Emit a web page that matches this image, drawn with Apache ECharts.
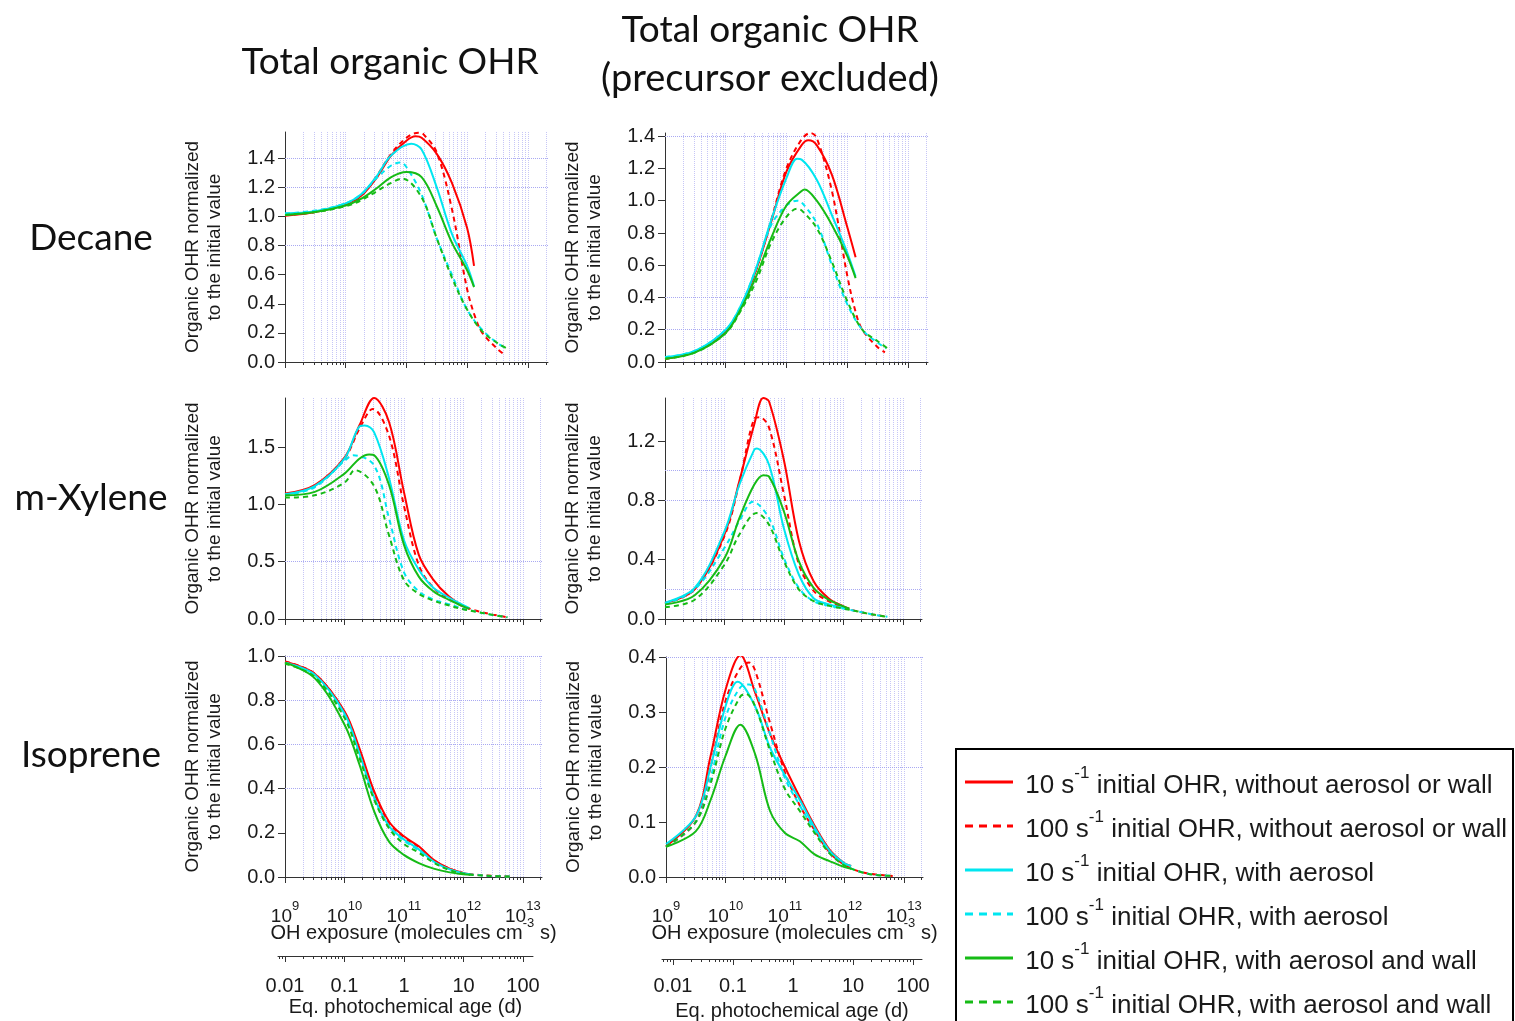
<!DOCTYPE html>
<html>
<head>
<meta charset="utf-8">
<title>Organic OHR normalized to the initial value</title>
<script src="https://cdn.jsdelivr.net/npm/echarts@6/dist/echarts.min.js"></script>
<style>
  html, body { margin: 0; padding: 0; background: #fff; }
  #chart { width: 1515px; height: 1021px; }
</style>
</head>
<body>
<div id="chart"></div>
<script>
// series names (legend order)
const seriesNames = [
  '10 s-1 initial OHR, without aerosol or wall',
  '100 s-1 initial OHR, without aerosol or wall',
  '10 s-1 initial OHR, with aerosol',
  '100 s-1 initial OHR, with aerosol',
  '10 s-1 initial OHR, with aerosol and wall',
  '100 s-1 initial OHR, with aerosol and wall'
];

// tick values
const exposureMajor = [1e9, 1e10, 1e11, 1e12, 1e13];
const ageMajor = [0.01, 0.1, 1, 10, 100];

// ---- Decane, total organic OHR : [OH exposure, normalized OHR]
const decTotR10 = [[1e9,1.005],[3.16e9,1.03],[1e10,1.085],[1.78e10,1.14],[3.16e10,1.26],[5.62e10,1.42],[1e11,1.52],[1.41e11,1.55],[1.78e11,1.54],[3.16e11,1.43],[5.62e11,1.23],[1e12,0.92],[1.3e12,0.66]];
const decTotR100 = [[1e9,1.01],[3.16e9,1.03],[1e10,1.085],[1.78e10,1.14],[3.16e10,1.27],[5.62e10,1.43],[1e11,1.54],[1.58e11,1.575],[1.9e11,1.565],[3.16e11,1.44],[5.62e11,1.05],[1e12,0.5],[1.38e12,0.3],[1.78e12,0.2],[3.16e12,0.09],[4e12,0.055]];
const decTotC10 = [[1e9,1.02],[3.16e9,1.035],[1e10,1.09],[1.78e10,1.15],[3.16e10,1.27],[5.62e10,1.42],[1.2e11,1.5],[1.78e11,1.46],[3.16e11,1.2],[5.62e11,0.88],[1e12,0.66],[1.3e12,0.52]];
const decTotC100 = [[1e9,1.02],[3.16e9,1.04],[1e10,1.09],[1.78e10,1.15],[3.16e10,1.26],[5.62e10,1.35],[8e10,1.37],[1e11,1.34],[1.78e11,1.15],[3.16e11,0.85],[5.62e11,0.6],[1e12,0.36],[1.78e12,0.22],[3.16e12,0.13],[4.4e12,0.095]];
const decTotG10 = [[1e9,1.01],[3.16e9,1.03],[1e10,1.075],[1.78e10,1.12],[3.16e10,1.19],[5.62e10,1.27],[1e11,1.305],[1.78e11,1.27],[3.16e11,1.07],[5.62e11,0.82],[1e12,0.63],[1.3e12,0.515]];
const decTotG100 = [[1e9,1.01],[3.16e9,1.03],[1e10,1.07],[1.78e10,1.11],[3.16e10,1.17],[5.62e10,1.23],[8.5e10,1.26],[1.78e11,1.13],[3.16e11,0.85],[5.62e11,0.58],[1e12,0.36],[1.78e12,0.21],[3.16e12,0.13],[4.4e12,0.095]];

// ---- Decane, precursor excluded
const decExR10 = [[1e9,0.02],[3.16e9,0.065],[1e10,0.19],[1.78e10,0.34],[3.16e10,0.57],[5.62e10,0.87],[1e11,1.18],[1.78e11,1.345],[2.3e11,1.375],[3.16e11,1.345],[5.62e11,1.16],[1e12,0.84],[1.38e12,0.65]];
const decExR100 = [[1e9,0.02],[3.16e9,0.065],[1e10,0.19],[1.78e10,0.34],[3.16e10,0.57],[5.62e10,0.88],[1e11,1.2],[1.78e11,1.38],[2.5e11,1.42],[3.16e11,1.39],[5.62e11,1.06],[1e12,0.54],[1.38e12,0.31],[1.78e12,0.2],[3.16e12,0.093],[4.2e12,0.06]];
const decExC10 = [[1e9,0.03],[3.16e9,0.07],[1e10,0.2],[1.78e10,0.35],[3.16e10,0.58],[5.62e10,0.88],[1e11,1.14],[1.5e11,1.26],[1.78e11,1.255],[3.16e11,1.13],[5.62e11,0.91],[1e12,0.68],[1.38e12,0.53]];
const decExC100 = [[1e9,0.03],[3.16e9,0.07],[1e10,0.2],[1.78e10,0.35],[3.16e10,0.58],[5.62e10,0.85],[1e11,0.97],[1.5e11,1.0],[1.78e11,0.99],[3.16e11,0.86],[5.62e11,0.6],[1e12,0.36],[1.78e12,0.2],[3.16e12,0.12],[4.4e12,0.085]];
const decExG10 = [[1e9,0.02],[3.16e9,0.06],[1e10,0.18],[1.78e10,0.33],[3.16e10,0.53],[5.62e10,0.77],[1e11,0.97],[1.78e11,1.06],[2e11,1.07],[3.16e11,1.0],[5.62e11,0.85],[1e12,0.66],[1.38e12,0.52]];
const decExG100 = [[1e9,0.02],[3.16e9,0.06],[1e10,0.18],[1.78e10,0.32],[3.16e10,0.5],[5.62e10,0.74],[1e11,0.9],[1.5e11,0.95],[1.78e11,0.94],[3.16e11,0.83],[5.62e11,0.62],[1e12,0.38],[1.78e12,0.2],[3.16e12,0.13],[4.6e12,0.085]];

// ---- m-Xylene, total
const xylTotR10 = [[1e9,1.096],[3.16e9,1.17],[1e10,1.41],[1.78e10,1.69],[3.16e10,1.93],[5.62e10,1.72],[1e11,1.11],[1.78e11,0.56],[3.16e11,0.34],[5.62e11,0.2],[1e12,0.11],[1.26e12,0.09]];
const xylTotR100 = [[1e9,1.09],[3.16e9,1.16],[1e10,1.4],[1.78e10,1.66],[3e10,1.835],[5.62e10,1.6],[1e11,0.99],[1.78e11,0.47],[3.16e11,0.27],[5.62e11,0.18],[1e12,0.11],[1.78e12,0.067],[3.16e12,0.038],[5.5e12,0.015]];
const xylTotC10 = [[1e9,1.09],[3.16e9,1.16],[1e10,1.4],[1.78e10,1.68],[2.2e10,1.69],[3.16e10,1.63],[5.62e10,1.23],[1e11,0.69],[1.78e11,0.43],[3.16e11,0.27],[5.62e11,0.19],[1e12,0.12],[1.26e12,0.095]];
const xylTotC100 = [[1e9,1.08],[3.16e9,1.15],[1e10,1.38],[1.4e10,1.43],[3.16e10,1.34],[5.62e10,0.88],[1e11,0.41],[1.78e11,0.24],[3.16e11,0.17],[5.62e11,0.13],[1e12,0.09],[1.78e12,0.06],[3.16e12,0.035],[5.5e12,0.015]];
const xylTotG10 = [[1e9,1.08],[3.16e9,1.11],[1e10,1.27],[1.78e10,1.4],[2.6e10,1.437],[3.16e10,1.43],[5.62e10,1.17],[1e11,0.65],[1.78e11,0.37],[3.16e11,0.24],[5.62e11,0.17],[1e12,0.11],[1.26e12,0.09]];
const xylTotG100 = [[1e9,1.06],[3.16e9,1.08],[1e10,1.19],[1.5e10,1.3],[3.16e10,1.16],[5.62e10,0.73],[1e11,0.34],[1.78e11,0.22],[3.16e11,0.16],[5.62e11,0.12],[1e12,0.085],[1.78e12,0.06],[3.16e12,0.035],[5.5e12,0.015]];

// ---- m-Xylene, precursor excluded
const xylExR10 = [[1e9,0.108],[3.16e9,0.2],[1e10,0.57],[1.78e10,0.93],[3.16e10,1.31],[4.5e10,1.49],[5.62e10,1.466],[1e11,1.07],[1.78e11,0.53],[3.16e11,0.254],[5.62e11,0.14],[1e12,0.085],[1.26e12,0.07]];
const xylExR100 = [[1e9,0.105],[3.16e9,0.2],[1e10,0.56],[1.78e10,0.92],[3.16e10,1.35],[3.9e10,1.36],[5.62e10,1.29],[1e11,0.84],[1.78e11,0.37],[3.16e11,0.19],[5.62e11,0.12],[1e12,0.08],[1.78e12,0.05],[3.16e12,0.03],[5.5e12,0.015]];
const xylExC10 = [[1e9,0.11],[3.16e9,0.21],[1e10,0.59],[1.78e10,0.905],[3.16e10,1.14],[3.5e10,1.15],[5.62e10,1.04],[1e11,0.61],[1.78e11,0.3],[3.16e11,0.14],[5.62e11,0.1],[1e12,0.075],[1.26e12,0.065]];
const xylExC100 = [[1e9,0.1],[3.16e9,0.2],[1e10,0.48],[1.78e10,0.66],[3e10,0.79],[5.62e10,0.68],[1e11,0.41],[1.78e11,0.21],[3.16e11,0.12],[5.62e11,0.09],[1e12,0.07],[1.78e12,0.05],[3.16e12,0.03],[5.5e12,0.015]];
const xylExG10 = [[1e9,0.097],[3.16e9,0.16],[1e10,0.41],[1.78e10,0.68],[3.16e10,0.905],[4.5e10,0.97],[5.62e10,0.96],[1e11,0.725],[1.78e11,0.39],[3.16e11,0.21],[5.62e11,0.13],[1e12,0.085],[1.26e12,0.07]];
const xylExG100 = [[1e9,0.08],[3.16e9,0.13],[1e10,0.366],[1.78e10,0.57],[3.5e10,0.714],[5.62e10,0.635],[1e11,0.39],[1.78e11,0.2],[3.16e11,0.12],[5.62e11,0.09],[1e12,0.07],[1.78e12,0.05],[3.16e12,0.03],[5.5e12,0.015]];

// ---- Isoprene, total
const isoTotR10 = [[1e9,0.974],[3.16e9,0.92],[1e10,0.75],[1.78e10,0.583],[3.16e10,0.387],[5.62e10,0.25],[1e11,0.184],[1.78e11,0.139],[3.16e11,0.078],[5.62e11,0.04],[1e12,0.018],[1.3e12,0.012]];
const isoTotR100 = [[1e9,0.975],[3.16e9,0.92],[1e10,0.745],[1.78e10,0.575],[3.16e10,0.38],[5.62e10,0.245],[1e11,0.18],[1.78e11,0.135],[3.16e11,0.075],[5.62e11,0.04],[1e12,0.018],[1.78e12,0.01],[3.16e12,0.005],[6.5e12,0.002]];
const isoTotC10 = [[1e9,0.97],[3.16e9,0.915],[1e10,0.74],[1.78e10,0.56],[3.16e10,0.36],[5.62e10,0.23],[1e11,0.17],[1.78e11,0.125],[3.16e11,0.07],[5.62e11,0.037],[1e12,0.017],[1.3e12,0.012]];
const isoTotC100 = [[1e9,0.97],[3.16e9,0.91],[1e10,0.73],[1.78e10,0.55],[3.16e10,0.355],[5.62e10,0.23],[1e11,0.165],[1.78e11,0.12],[3.16e11,0.068],[5.62e11,0.035],[1e12,0.016],[1.78e12,0.009],[3.16e12,0.004],[6.5e12,0.002]];
const isoTotG10 = [[1e9,0.97],[3.16e9,0.9],[1e10,0.69],[1.78e10,0.51],[3.16e10,0.297],[5.62e10,0.16],[1e11,0.1],[1.78e11,0.063],[3.16e11,0.038],[5.62e11,0.022],[1e12,0.012],[1.3e12,0.01]];
const isoTotG100 = [[1e9,0.965],[3.16e9,0.905],[1e10,0.72],[1.78e10,0.54],[3.16e10,0.35],[5.62e10,0.22],[1e11,0.15],[1.78e11,0.11],[3.16e11,0.065],[5.62e11,0.033],[1e12,0.015],[1.78e12,0.008],[3.16e12,0.004],[6.5e12,0.002]];

// ---- Isoprene, precursor excluded
const isoExR10 = [[1e9,0.056],[3.16e9,0.11],[5.62e9,0.22],[1e10,0.34],[1.78e10,0.403],[3.16e10,0.335],[5.62e10,0.26],[1e11,0.2],[1.78e11,0.145],[3.16e11,0.093],[5.62e11,0.05],[1e12,0.025],[1.3e12,0.02]];
const isoExR100 = [[1e9,0.055],[3.16e9,0.1],[5.62e9,0.2],[1e10,0.32],[1.78e10,0.38],[2.5e10,0.39],[3.16e10,0.375],[5.62e10,0.28],[1e11,0.19],[1.78e11,0.13],[3.16e11,0.085],[5.62e11,0.045],[1e12,0.022],[1.78e12,0.01],[3.16e12,0.005],[6.5e12,0.002]];
const isoExC10 = [[1e9,0.06],[3.16e9,0.11],[5.62e9,0.2],[1e10,0.31],[1.6e10,0.355],[3.16e10,0.31],[5.62e10,0.235],[1e11,0.185],[1.78e11,0.14],[3.16e11,0.09],[5.62e11,0.048],[1e12,0.025],[1.3e12,0.02]];
const isoExC100 = [[1e9,0.055],[3.16e9,0.1],[5.62e9,0.18],[1e10,0.29],[1.78e10,0.345],[2.5e10,0.35],[3.16e10,0.34],[5.62e10,0.26],[1e11,0.18],[1.78e11,0.13],[3.16e11,0.085],[5.62e11,0.045],[1e12,0.022],[1.78e12,0.01],[3.16e12,0.004],[6.5e12,0.002]];
const isoExG10 = [[1e9,0.055],[3.16e9,0.083],[5.62e9,0.14],[1e10,0.22],[1.78e10,0.277],[3.16e10,0.223],[5.62e10,0.12],[1e11,0.08],[1.78e11,0.065],[3.16e11,0.041],[5.62e11,0.029],[1e12,0.018],[1.3e12,0.015]];
const isoExG100 = [[1e9,0.055],[3.16e9,0.1],[5.62e9,0.17],[1e10,0.27],[1.78e10,0.328],[2.2e10,0.333],[3.16e10,0.31],[5.62e10,0.23],[1e11,0.16],[1.78e11,0.12],[3.16e11,0.08],[5.62e11,0.043],[1e12,0.021],[1.78e12,0.01],[3.16e12,0.004],[6.5e12,0.002]];

// ------------------------------------------------------------------
const SANS = '"Liberation Sans", Arial, sans-serif';
const TITLE_FONT = 'Lato, "Open Sans", sans-serif';
const AXIS_COLOR = '#333';
const TEXT_COLOR = '#1a1a1a';
const GRID_H = '#a9a9f2';
const GRID_V = '#c6c6f6';

const lineLooks = [
  { color: '#ff0000', type: 'solid' },
  { color: '#ff0000', type: [5, 4] },
  { color: '#00e6f0', type: 'solid' },
  { color: '#00e6f0', type: [5, 4] },
  { color: '#16bb16', type: 'solid' },
  { color: '#16bb16', type: [5, 4] }
];
// legend swatches: a 48x3 bar, or 8px dashes with 6px gaps
const SOLID_ICON = 'path://M0,0h48v3h-48z';
const DASH_ICON = 'path://M0,0h8v3h-8zM14,0h8v3h-8zM28,0h8v3h-8zM42,0h6v3h-6z';

// minor ticks 1..9 x 10^e
function logMinors(e0, e1) {
  const out = [];
  for (let e = e0; e <= e1; e++) {
    for (let m = 1; m <= 9; m++) out.push(+(m + 'e' + e));
  }
  return out;
}
const exposureMinor = logMinors(9, 13);
const ageMinor = logMinors(-3, 2);

const panels = [
  { left: 285, top: 132, width: 263, height: 230, xMax: 2.15e13, yMax: 1.58,
    yTicks: [0, 0.2, 0.4, 0.6, 0.8, 1.0, 1.2, 1.4], yGrid: [0.8, 1.2, 1.4],
    lines: [decTotR10, decTotR100, decTotC10, decTotC100, decTotG10, decTotG100] },
  { left: 665, top: 133, width: 263, height: 229, xMax: 2.15e13, yMax: 1.42,
    yTicks: [0, 0.2, 0.4, 0.6, 0.8, 1.0, 1.2, 1.4], yGrid: [0.2, 0.4, 1.4],
    lines: [decExR10, decExR100, decExC10, decExC100, decExG10, decExG100] },
  { left: 285, top: 398, width: 257, height: 221, xMax: 2.1e13, yMax: 1.93,
    yTicks: [0, 0.5, 1.0, 1.5], yGrid: [0.5],
    lines: [xylTotR10, xylTotR100, xylTotC10, xylTotC100, xylTotG10, xylTotG100] },
  { left: 665, top: 398, width: 257, height: 221, xMax: 2.1e13, yMax: 1.49,
    yTicks: [0, 0.4, 0.8, 1.2], yGrid: [0.2, 0.8, 1.0],
    lines: [xylExR10, xylExR100, xylExC10, xylExC100, xylExG10, xylExG100] },
  { left: 285, top: 656, width: 257, height: 221, xMax: 2.1e13, yMax: 1.0,
    yTicks: [0, 0.2, 0.4, 0.6, 0.8, 1.0], yGrid: [0.4, 0.6, 0.8, 1.0], labels: true,
    lines: [isoTotR10, isoTotR100, isoTotC10, isoTotC100, isoTotG10, isoTotG100] },
  { left: 666, top: 657, width: 257, height: 220, xMax: 2.1e13, yMax: 0.4,
    yTicks: [0, 0.1, 0.2, 0.3, 0.4], yGrid: [0.2, 0.4], labels: true,
    lines: [isoExR10, isoExR100, isoExC10, isoExC100, isoExG10, isoExG100] }
];

// secondary "Eq. photochemical age" axes under each column
const ageAxes = [
  { left: 278, top: 955, width: 255, min: 0.00763, max: 147, labelMargin: 18, nameGap: 39 },
  { left: 662, top: 958, width: 260, min: 0.00656, max: 141, labelMargin: 15, nameGap: 40 }
];

const grid = [], xAxis = [], yAxis = [], series = [];
const supRich = {
  b: { fontSize: 19, lineHeight: 26, verticalAlign: 'bottom', color: TEXT_COLOR, fontFamily: SANS },
  s: { fontSize: 13, lineHeight: 13, verticalAlign: 'top', color: TEXT_COLOR, fontFamily: SANS }
};

panels.forEach((p, i) => {
  grid.push({ left: p.left, top: p.top, width: p.width, height: p.height, containLabel: false, outerBoundsMode: 'none' });

  const base = { gridIndex: i, type: 'log', logBase: 10, min: 1e9, max: p.xMax, position: 'bottom' };
  xAxis.push(Object.assign({}, base, {
    axisLine: { show: true, onZero: false, lineStyle: { color: AXIS_COLOR, width: 1 } },
    axisTick: { show: true, inside: false, length: 6, customValues: exposureMajor, lineStyle: { color: AXIS_COLOR } },
    axisLabel: p.labels ? {
      show: true, customValues: exposureMajor, margin: 23,
      formatter: v => '{b|10}{s|' + Math.round(Math.log10(v)) + '}',
      rich: supRich
    } : { show: false },
    splitLine: { show: false },
    name: p.labels ? '{n|OH exposure (molecules cm}{s|-3}{n| s)}' : '',
    nameLocation: 'middle', nameGap: 40, nameMoveOverlap: false,
    nameTextStyle: {
      rich: {
        n: { fontSize: 20, lineHeight: 26, verticalAlign: 'bottom', color: TEXT_COLOR, fontFamily: SANS },
        s: { fontSize: 13, lineHeight: 13, verticalAlign: 'top', color: TEXT_COLOR, fontFamily: SANS }
      }
    }
  }));
  xAxis.push(Object.assign({}, base, {
    axisLine: { show: false, onZero: false },
    axisTick: { show: true, inside: false, length: 3, customValues: exposureMinor, lineStyle: { color: AXIS_COLOR } },
    axisLabel: { show: false },
    splitLine: { show: true, lineStyle: { color: GRID_V, type: 'dotted', width: 1 } }
  }));

  yAxis.push({
    gridIndex: i, type: 'value', min: 0, max: p.yMax, position: 'left',
    axisLine: { show: true, onZero: false, lineStyle: { color: AXIS_COLOR, width: 1 } },
    axisTick: { show: true, inside: false, length: 7, customValues: p.yTicks, lineStyle: { color: AXIS_COLOR } },
    axisLabel: { show: true, customValues: p.yTicks, formatter: v => v.toFixed(1), fontSize: 20, color: TEXT_COLOR, fontFamily: SANS, margin: 10 },
    splitLine: { show: false },
    name: 'Organic OHR normalized\nto the initial value',
    nameLocation: 'middle', nameRotate: 90, nameGap: 59, nameMoveOverlap: false,
    nameTextStyle: { fontSize: 19, lineHeight: 22, color: TEXT_COLOR, fontFamily: SANS }
  });

  p.lines.forEach((d, k) => {
    const s = {
      type: 'line', name: seriesNames[k], xAxisIndex: 2 * i, yAxisIndex: i, data: d,
      symbol: 'none', showSymbol: false, smooth: 0.35, z: 3,
      color: lineLooks[k].color,
      lineStyle: { color: lineLooks[k].color, width: 2, type: lineLooks[k].type }
    };
    if (k === 0) {
      s.markLine = {
        silent: true, symbol: 'none', label: { show: false }, z: 1,
        lineStyle: { color: GRID_H, type: 'dotted', width: 1 },
        data: p.yGrid.map(v => ({ yAxis: v }))
      };
    }
    series.push(s);
  });
});

ageAxes.forEach((a, j) => {
  const gi = panels.length + j;
  grid.push({ left: a.left, top: a.top, width: a.width, height: 1, containLabel: false, outerBoundsMode: 'none' });
  yAxis.push({ gridIndex: gi, type: 'value', min: 0, max: 1, show: false });
  const base = { gridIndex: gi, type: 'log', logBase: 10, min: a.min, max: a.max, position: 'bottom' };
  xAxis.push(Object.assign({}, base, {
    axisLine: { show: true, onZero: false, lineStyle: { color: AXIS_COLOR, width: 1 } },
    axisTick: { show: true, inside: false, length: 6, customValues: ageMajor, lineStyle: { color: AXIS_COLOR } },
    axisLabel: { show: true, customValues: ageMajor, formatter: v => String(v), fontSize: 20, lineHeight: 24, color: TEXT_COLOR, fontFamily: SANS, margin: a.labelMargin },
    splitLine: { show: false },
    name: 'Eq. photochemical age (d)', nameLocation: 'middle', nameGap: a.nameGap, nameMoveOverlap: false,
    nameTextStyle: { fontSize: 20, lineHeight: 24, color: TEXT_COLOR, fontFamily: SANS }
  }));
  xAxis.push(Object.assign({}, base, {
    axisLine: { show: false, onZero: false },
    axisTick: { show: true, inside: false, length: 3, customValues: ageMinor, lineStyle: { color: AXIS_COLOR } },
    axisLabel: { show: false },
    splitLine: { show: false }
  }));
});

const chart = echarts.init(document.getElementById('chart'));
chart.setOption({
  animation: false,
  backgroundColor: '#fff',
  textStyle: { fontFamily: SANS },
  grid: grid,
  xAxis: xAxis,
  yAxis: yAxis,
  series: series,
  legend: {
    orient: 'vertical', left: 965, top: 765, padding: 0,
    itemGap: 10, itemWidth: 48, itemHeight: 3, selectedMode: false,
    data: seriesNames.map((n, k) => ({ name: n, icon: k % 2 ? DASH_ICON : SOLID_ICON })),
    formatter: name => name.replace(/^(\d+) s-1 (.*)$/, '{n| $1 s}{s|-1}{n| $2}'),
    textStyle: {
      color: TEXT_COLOR,
      rich: {
        n: { fontSize: 26, lineHeight: 34, verticalAlign: 'bottom', color: TEXT_COLOR, fontFamily: SANS },
        s: { fontSize: 17, lineHeight: 17, verticalAlign: 'top', color: TEXT_COLOR, fontFamily: SANS }
      }
    }
  },
  graphic: [
    { type: 'rect', silent: true, shape: { x: 956, y: 749, width: 557, height: 330 },
      style: { fill: 'none', stroke: '#000', lineWidth: 2 } },
    { type: 'text', silent: true, x: 390, y: 62,
      style: { text: 'Total organic OHR', fontSize: 37, fontFamily: TITLE_FONT, fill: '#111', align: 'center', verticalAlign: 'middle' } },
    { type: 'text', silent: true, x: 770, y: 30,
      style: { text: 'Total organic OHR', fontSize: 37, fontFamily: TITLE_FONT, fill: '#111', align: 'center', verticalAlign: 'middle' } },
    { type: 'text', silent: true, x: 770, y: 79,
      style: { text: '(precursor excluded)', fontSize: 38, fontFamily: TITLE_FONT, fill: '#111', align: 'center', verticalAlign: 'middle' } },
    { type: 'text', silent: true, x: 91, y: 238,
      style: { text: 'Decane', fontSize: 37, fontFamily: TITLE_FONT, fill: '#111', align: 'center', verticalAlign: 'middle' } },
    { type: 'text', silent: true, x: 91, y: 498,
      style: { text: 'm-Xylene', fontSize: 37, fontFamily: TITLE_FONT, fill: '#111', align: 'center', verticalAlign: 'middle' } },
    { type: 'text', silent: true, x: 91, y: 755,
      style: { text: 'Isoprene', fontSize: 37, fontFamily: TITLE_FONT, fill: '#111', align: 'center', verticalAlign: 'middle' } }
  ]
});
</script>
</body>
</html>
